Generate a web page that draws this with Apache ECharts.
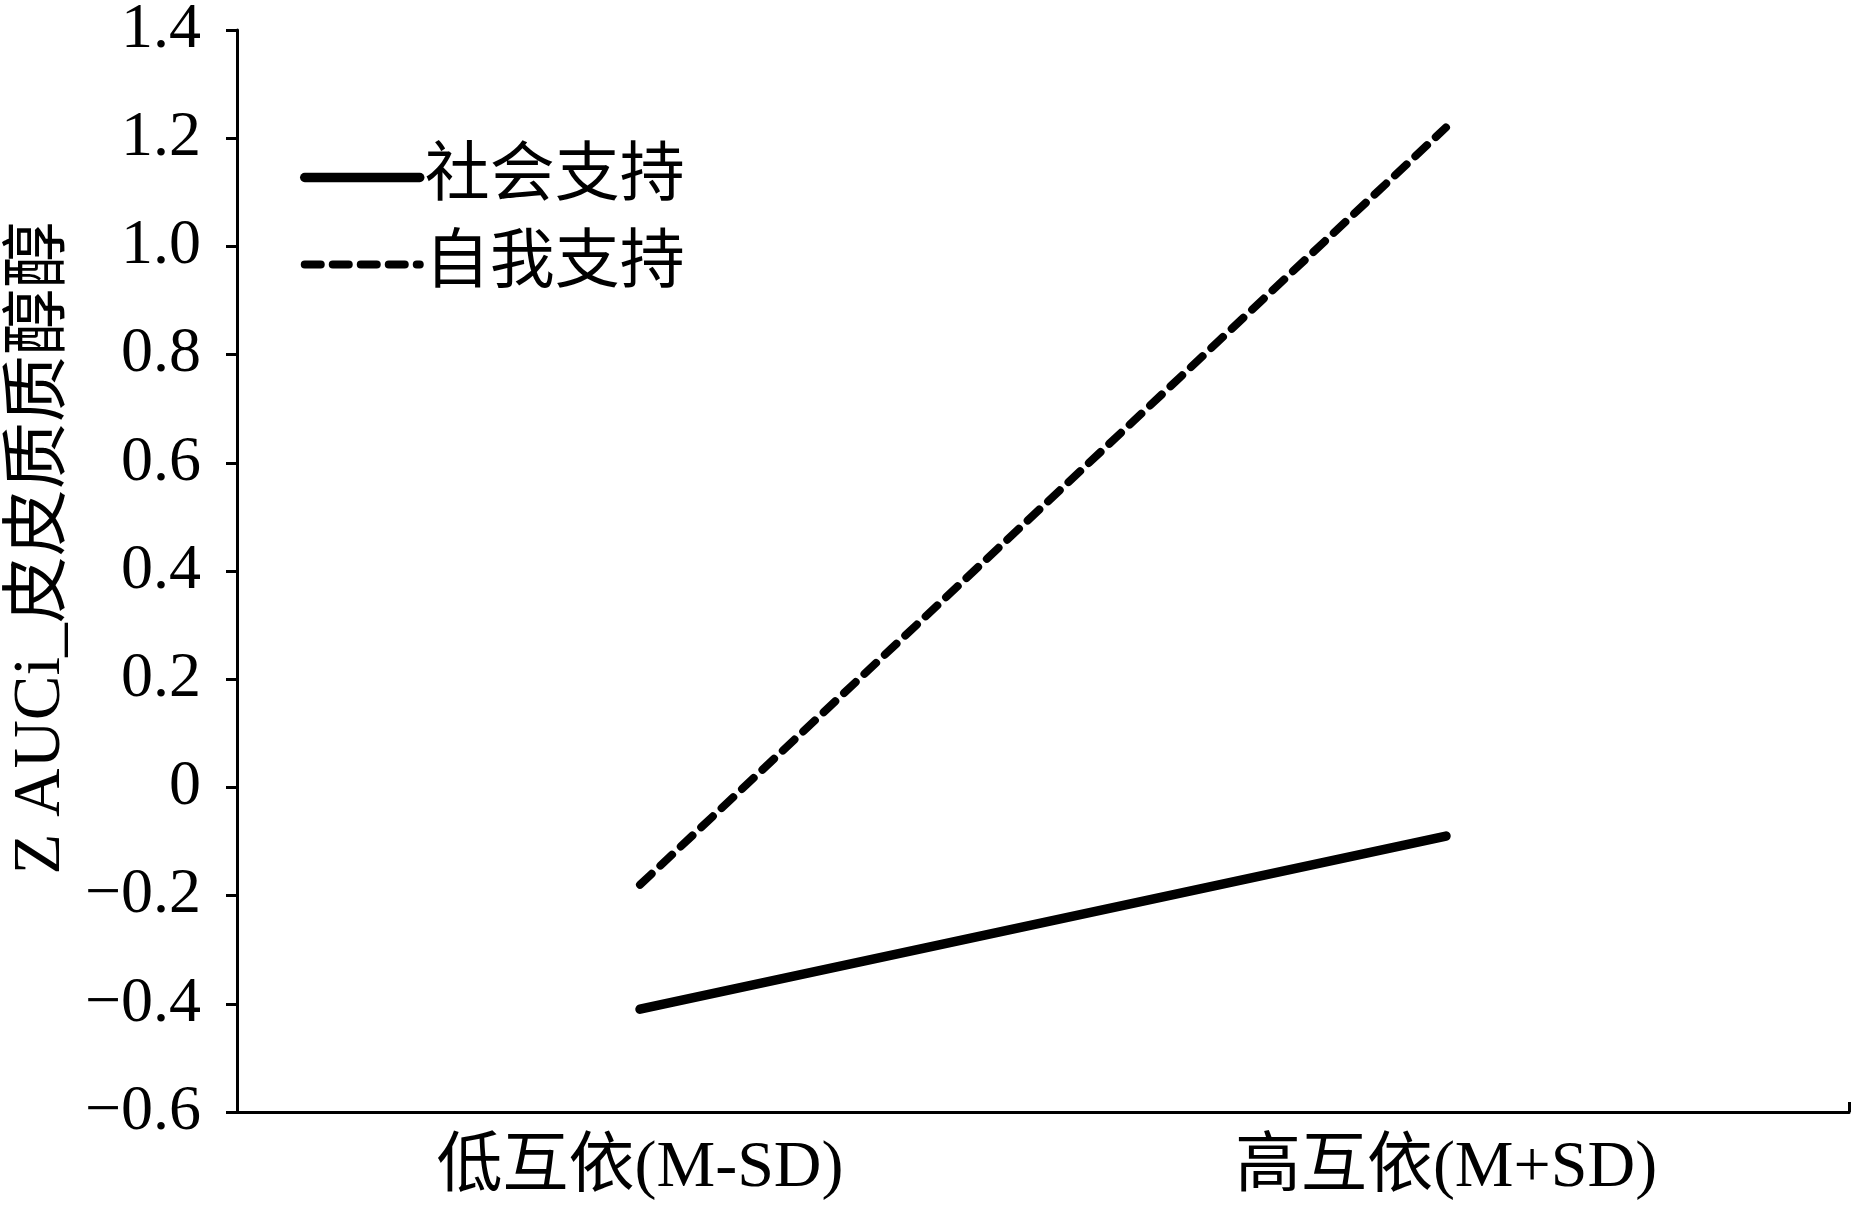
<!DOCTYPE html>
<html>
<head>
<meta charset="utf-8">
<script src="https://cdn.jsdelivr.net/npm/echarts@6/dist/echarts.min.js"></script>
<style>
html,body{margin:0;padding:0;background:#fff;}
#c{width:1851px;height:1215px;}
</style>
</head>
<body>
<div id="c"></div>
<script>
const categories = ['低互依(M-SD)', '高互依(M+SD)'];
const socialSupport = [-0.41, -0.09];
const selfSupport = [-0.18, 1.22];
const seriesNames = ['社会支持', '自我支持'];
const yAxisName = 'Z AUCi_皮皮质质醇醇';

const FONT = '"Liberation Serif", "Noto Sans CJK SC", serif';
const chart = echarts.init(document.getElementById('c'), null, {renderer: 'canvas'});
chart.setOption({
  backgroundColor: '#fff',
  animation: false,
  grid: {left: 237, right: 2, top: 30, bottom: 103, outerBoundsMode: 'none', containLabel: false},
  legend: {
    orient: 'vertical',
    left: 295,
    top: 140,
    itemWidth: 115,
    itemHeight: 20,
    itemGap: 22,
    textStyle: {fontFamily: FONT, fontSize: 65, lineHeight: 64, color: '#000'},
    data: [
      {name: seriesNames[0], itemStyle: {opacity: 0},
       lineStyle: {color: '#000', width: 9.5, type: 'solid', cap: 'round'}},
      {name: seriesNames[1], itemStyle: {opacity: 0},
       lineStyle: {color: '#000', width: 8, type: [16, 12], cap: 'round'}}
    ]
  },
  graphic: [{
    type: 'text',
    x: 41, y: 548,
    rotation: Math.PI / 2,
    style: {text: yAxisName, fill: '#000', font: '67px ' + FONT, align: 'center', verticalAlign: 'middle'}
  }],
  xAxis: [{
    type: 'category',
    data: categories,
    boundaryGap: true,
    axisLine: {onZero: false, lineStyle: {color: '#000', width: 3}},
    axisTick: {inside: true, alignWithLabel: true, length: 10, lineStyle: {color: '#000', width: 3}},
    axisLabel: {color: '#000', fontFamily: FONT, fontSize: 66, margin: 24},
    splitLine: {show: false}
  }, {
    type: 'value',
    position: 'bottom',
    min: 0, max: 1, interval: 1,
    axisLine: {show: false, onZero: false},
    axisTick: {show: true, inside: true, length: 10, lineStyle: {color: '#000', width: 3}},
    axisLabel: {show: false},
    splitLine: {show: false}
  }],
  yAxis: {
    type: 'value',
    min: -0.6, max: 1.4, interval: 0.2,
    axisLine: {show: true, lineStyle: {color: '#000', width: 3}},
    axisTick: {show: true, inside: false, length: 11, lineStyle: {color: '#000', width: 3}},
    axisLabel: {
      color: '#000', fontFamily: FONT, fontSize: 64, margin: 36,
      formatter: v => {
        const r = Math.round(v * 10) / 10;
        if (r === 0) return '0';
        return (r < 0 ? '\u2212' : '') + Math.abs(r).toFixed(1);
      }
    },
    splitLine: {show: false}
  },
  series: [{
    name: seriesNames[0], type: 'line', data: socialSupport, symbol: 'none',
    xAxisIndex: 0,
    lineStyle: {color: '#000', width: 9.5, type: 'solid', cap: 'round'},
    itemStyle: {color: '#000'}
  }, {
    name: seriesNames[1], type: 'line', data: selfSupport, symbol: 'none',
    xAxisIndex: 0,
    lineStyle: {color: '#000', width: 8, type: [16, 12], cap: 'round'},
    itemStyle: {color: '#000'}
  }]
});
</script>
</body>
</html>
